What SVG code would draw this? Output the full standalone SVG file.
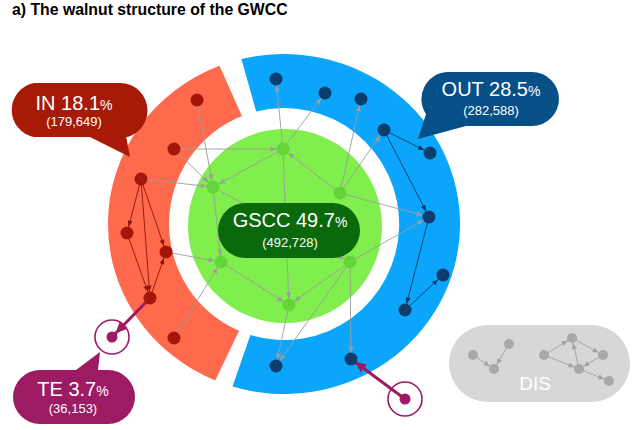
<svg xmlns="http://www.w3.org/2000/svg" width="637" height="430" viewBox="0 0 637 430">
<style>
.t{font-family:"Liberation Sans",Arial,sans-serif;fill:#fff;text-anchor:middle}
.big{font-size:20px}
.pct{font-size:14px}
.sub{font-size:13px}
.ge{stroke:#9c9c9c;stroke-width:0.9;fill:none;marker-end:url(#ag)}
.re{stroke:#8a1608;stroke-width:0.9;fill:none;marker-end:url(#ar)}
.be{stroke:#0b3a66;stroke-width:0.9;fill:none;marker-end:url(#ab)}
.de{stroke:#a2a2a2;stroke-width:0.9;fill:none;marker-end:url(#ad)}
.me{stroke:#9d1b63;stroke-width:3;fill:none}
.rn{fill:#a5150a}
.bn{fill:#0c3d6c}
.gn{fill:#64d43a}
.dn{fill:#a8a8a8}
.ring{fill:#fff;stroke:#9d1b63;stroke-width:1.6}
</style>
<defs>
<marker id="ag" markerUnits="userSpaceOnUse" markerWidth="6" markerHeight="5" refX="12.5" refY="2.5" orient="auto" overflow="visible"><path d="M0,0 L6,2.5 L0,5 z" fill="#9c9c9c"/></marker>
<marker id="ar" markerUnits="userSpaceOnUse" markerWidth="6" markerHeight="5" refX="12.5" refY="2.5" orient="auto" overflow="visible"><path d="M0,0 L6,2.5 L0,5 z" fill="#8a1608"/></marker>
<marker id="ab" markerUnits="userSpaceOnUse" markerWidth="6" markerHeight="5" refX="12.5" refY="2.5" orient="auto" overflow="visible"><path d="M0,0 L6,2.5 L0,5 z" fill="#0b3a66"/></marker>
<marker id="ad" markerUnits="userSpaceOnUse" markerWidth="6" markerHeight="5" refX="11" refY="2.5" orient="auto" overflow="visible"><path d="M0,0 L6,2.5 L0,5 z" fill="#a2a2a2"/></marker>
<marker id="am" markerUnits="userSpaceOnUse" markerWidth="11" markerHeight="10" refX="16" refY="5" orient="auto" overflow="visible"><path d="M0,0 L11,5 L0,10 z" fill="#9d1b63"/></marker>
</defs>
<rect width="637" height="430" fill="#fff"/>
<text x="12" y="15" style="font-family:'Liberation Sans',Arial,sans-serif;font-weight:bold;font-size:15.8px;fill:#000">a) The walnut structure of the GWCC</text>

<g id="out-ring"><path d="M241.4 59.1 A176 170 0 1 1 232.5 386.6 L250.4 334.9 A115 116 0 1 0 256.2 111.5 Z" fill="#0ba6fb"/></g>
<g id="in-ring"><path d="M215.2 380.5 A176 170 0 0 1 219.5 65.8 L241.9 116.1 A115 116 0 0 0 239.1 330.8 Z" fill="#ff6a4d"/></g>
<g id="gscc-circle"><circle cx="285" cy="226" r="97" fill="#80ee4c"/></g>

<g id="te-node">
<circle class="ring" cx="112" cy="337" r="17"/>
<circle cx="112" cy="337" r="5.5" fill="#9d1b63"/>
</g>
<g id="tendril">
<circle class="ring" cx="405" cy="399" r="17"/>
<circle cx="405" cy="399" r="5.5" fill="#9d1b63"/>
</g>

<g id="connectors">
<line class="ge" x1="197" y1="100" x2="213" y2="187"/>
<line class="ge" x1="174" y1="149" x2="283" y2="149"/>
<line class="ge" x1="174" y1="149" x2="213" y2="187"/>
<line class="ge" x1="141" y1="179" x2="213" y2="187"/>
<line class="ge" x1="283" y1="149" x2="213" y2="187"/>
<line class="ge" x1="166" y1="252" x2="221" y2="262"/>
<line class="ge" x1="174" y1="338" x2="221" y2="262"/>
<line class="ge" x1="213" y1="187" x2="221" y2="262"/>
<line class="ge" x1="221" y1="262" x2="289" y2="305"/>
<line class="ge" x1="350" y1="262" x2="289" y2="305"/>
<line class="ge" x1="283" y1="149" x2="289" y2="305"/>
<line class="ge" x1="213" y1="187" x2="350" y2="262"/>
<line class="ge" x1="340" y1="193" x2="283" y2="149"/>
<line class="ge" x1="283" y1="149" x2="276" y2="79"/>
<line class="ge" x1="283" y1="149" x2="325" y2="93"/>
<line class="ge" x1="340" y1="193" x2="361" y2="99"/>
<line class="ge" x1="340" y1="193" x2="384" y2="130"/>
<line class="ge" x1="340" y1="193" x2="429" y2="217"/>
<line class="ge" x1="350" y1="262" x2="429" y2="217"/>
<line class="ge" x1="350" y1="262" x2="351" y2="359"/>
<line class="ge" x1="350" y1="262" x2="276" y2="366"/>
<line class="ge" x1="289" y1="305" x2="276" y2="366"/>
<line class="re" x1="141" y1="179" x2="127" y2="233"/>
<line class="re" x1="141" y1="179" x2="150" y2="298"/>
<line class="re" x1="141" y1="179" x2="166" y2="252"/>
<line class="re" x1="127" y1="233" x2="150" y2="298"/>
<line class="re" x1="150" y1="298" x2="166" y2="252"/>
<line class="be" x1="384" y1="130" x2="430" y2="153"/>
<line class="be" x1="384" y1="130" x2="429" y2="217"/>
<line class="be" x1="429" y1="217" x2="405" y2="310"/>
<line class="be" x1="405" y1="310" x2="443" y2="275"/>
<line class="me" x1="150" y1="298" x2="112" y2="337" marker-end="url(#am)"/>
<line class="me" x1="405" y1="399" x2="351" y2="359" marker-end="url(#am)"/>
</g>

<g id="in-nodes">
<circle id="r1" class="rn" cx="197" cy="100" r="6.5"/>
<circle id="r2" class="rn" cx="174" cy="149" r="6.5"/>
<circle id="r3" class="rn" cx="141" cy="179" r="6.5"/>
<circle id="r4" class="rn" cx="127" cy="233" r="6.5"/>
<circle id="r5" class="rn" cx="166" cy="252" r="6.5"/>
<circle id="r6" class="rn" cx="150" cy="298" r="6.5"/>
<circle id="r7" class="rn" cx="174" cy="338" r="6.5"/>
</g>
<g id="out-nodes">
<circle id="b1" class="bn" cx="276" cy="79" r="6.5"/>
<circle id="b2" class="bn" cx="325" cy="93" r="6.5"/>
<circle id="b3" class="bn" cx="361" cy="99" r="6.5"/>
<circle id="b4" class="bn" cx="384" cy="130" r="6.5"/>
<circle id="b5" class="bn" cx="430" cy="153" r="6.5"/>
<circle id="b6" class="bn" cx="429" cy="217" r="6.5"/>
<circle id="b7" class="bn" cx="443" cy="275" r="6.5"/>
<circle id="b8" class="bn" cx="405" cy="310" r="6.5"/>
<circle id="b9" class="bn" cx="351" cy="359" r="6.5"/>
<circle id="b10" class="bn" cx="276" cy="366" r="6.5"/>
</g>
<g id="gscc-nodes">
<circle id="g1" class="gn" cx="283" cy="149" r="6.5"/>
<circle id="g2" class="gn" cx="213" cy="187" r="6.5"/>
<circle id="g3" class="gn" cx="340" cy="193" r="6.5"/>
<circle id="g4" class="gn" cx="221" cy="262" r="6.5"/>
<circle id="g5" class="gn" cx="350" cy="262" r="6.5"/>
<circle id="g6" class="gn" cx="289" cy="305" r="6.5"/>
</g>

<g id="gscc-label">
<rect x="218" y="203" width="142" height="55" rx="27.5" fill="#0a690a"/>
<text class="t big" x="290" y="227">GSCC 49.7<tspan class="pct">%</tspan></text>
<text class="t sub" x="290" y="247">(492,728)</text>
</g>

<g id="in-callout">
<path d="M34 83 H120 A27.5 27.5 0 0 1 120 138 L126 136 L130 157 L90 137 H34 A27.5 27.5 0 0 1 34 83 Z" fill="#a81a08"/>
<text class="t big" x="74" y="110">IN 18.1<tspan class="pct">%</tspan></text>
<text class="t sub" x="74" y="126">(179,649)</text>
</g>

<g id="out-callout">
<path d="M447 72 H532 A27 27 0 0 1 532 126 H466 L418 139 L426 114 A27 27 0 0 1 447 72 Z" fill="#064f87"/>
<text class="t big" x="491" y="96">OUT 28.5<tspan class="pct">%</tspan></text>
<text class="t sub" x="491" y="115">(282,588)</text>
</g>

<g id="te-callout">
<path d="M40 370 H76 L100 352 L98 370 H108 A27 27 0 0 1 108 424 H40 A27 27 0 0 1 40 370 Z" fill="#9d1b63"/>
<text class="t big" x="73" y="396">TE 3.7<tspan class="pct">%</tspan></text>
<text class="t sub" x="73" y="413">(36,153)</text>
</g>

<g id="dis">
<rect x="449" y="325" width="181" height="77" rx="38.5" fill="#d7d7d7"/>
<g id="dis-edges">
<line class="de" x1="473" y1="355" x2="494" y2="369"/>
<line class="de" x1="509" y1="344" x2="494" y2="369"/>
<line class="de" x1="544" y1="355" x2="572" y2="338"/>
<line class="de" x1="572" y1="338" x2="603" y2="355"/>
<line class="de" x1="544" y1="355" x2="579" y2="369"/>
<line class="de" x1="603" y1="355" x2="579" y2="369"/>
<line class="de" x1="579" y1="369" x2="572" y2="338"/>
<line class="de" x1="579" y1="369" x2="609" y2="381"/>
</g>
<circle class="dn" cx="473" cy="355" r="5"/>
<circle class="dn" cx="494" cy="369" r="5"/>
<circle class="dn" cx="509" cy="344" r="5"/>
<circle class="dn" cx="544" cy="355" r="5"/>
<circle class="dn" cx="572" cy="338" r="5"/>
<circle class="dn" cx="603" cy="355" r="5"/>
<circle class="dn" cx="579" cy="369" r="5"/>
<circle class="dn" cx="609" cy="381" r="5"/>
<text class="t" x="535" y="390" style="font-size:19px">DIS</text>
</g>
</svg>
